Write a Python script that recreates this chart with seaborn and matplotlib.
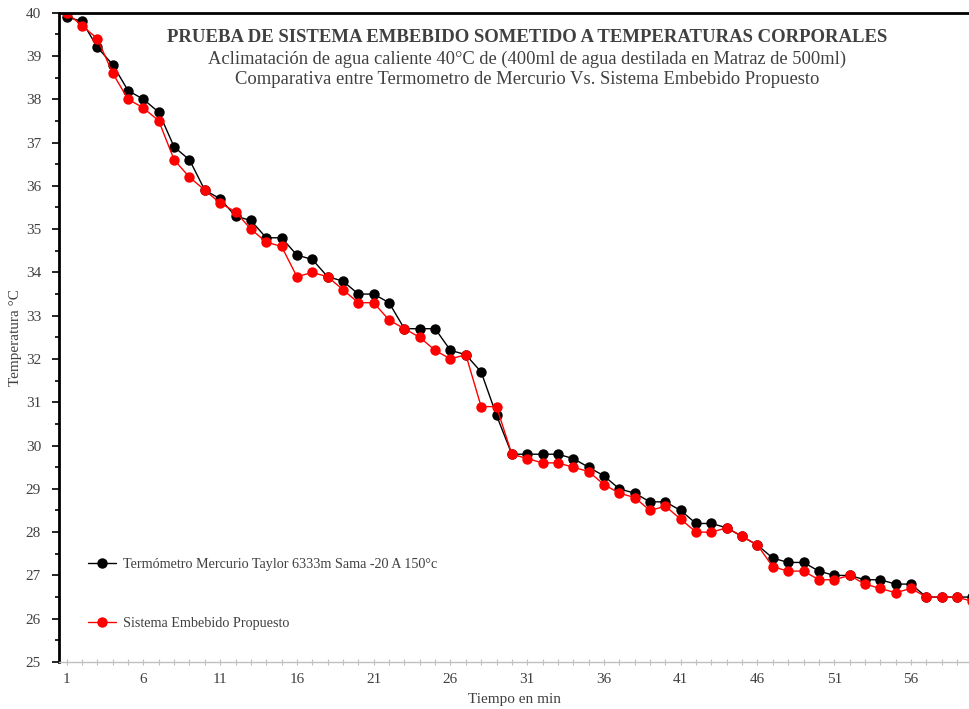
import numpy as np
import pandas as pd
import matplotlib
matplotlib.use("Agg")
import matplotlib.pyplot as plt
from matplotlib.ticker import MultipleLocator, FixedLocator
import seaborn as sns

# Minutes of the cooling run
minutos = list(range(1, 61))

# Mercury thermometer readings (°C)
mercurio = [
    39.9, 39.8, 39.2, 38.8, 38.2, 38.0, 37.7, 36.9, 36.6, 35.9,
    35.7, 35.3, 35.2, 34.8, 34.8, 34.4, 34.3, 33.9, 33.8, 33.5,
    33.5, 33.3, 32.7, 32.7, 32.7, 32.2, 32.1, 31.7, 30.7, 29.8,
    29.8, 29.8, 29.8, 29.7, 29.5, 29.3, 29.0, 28.9, 28.7, 28.7,
    28.5, 28.2, 28.2, 28.1, 27.9, 27.7, 27.4, 27.3, 27.3, 27.1,
    27.0, 27.0, 26.9, 26.9, 26.8, 26.8, 26.5, 26.5, 26.5, 26.5,
]

# Embedded system readings (°C)
embebido = [
    40.0, 39.7, 39.4, 38.6, 38.0, 37.8, 37.5, 36.6, 36.2, 35.9,
    35.6, 35.4, 35.0, 34.7, 34.6, 33.9, 34.0, 33.9, 33.6, 33.3,
    33.3, 32.9, 32.7, 32.5, 32.2, 32.0, 32.1, 30.9, 30.9, 29.8,
    29.7, 29.6, 29.6, 29.5, 29.4, 29.1, 28.9, 28.8, 28.5, 28.6,
    28.3, 28.0, 28.0, 28.1, 27.9, 27.7, 27.2, 27.1, 27.1, 26.9,
    26.9, 27.0, 26.8, 26.7, 26.6, 26.7, 26.5, 26.5, 26.5, 26.4,
]

serie_mercurio = "Termómetro Mercurio Taylor 6333m Sama -20 A 150°c"
serie_embebido = "Sistema Embebido Propuesto"

titulo = "PRUEBA DE SISTEMA EMBEBIDO SOMETIDO A TEMPERATURAS CORPORALES"
subtitulo1 = "Aclimatación de agua caliente 40°C de (400ml de agua destilada en Matraz de 500ml)"
subtitulo2 = "Comparativa entre Termometro de Mercurio Vs. Sistema Embebido Propuesto"

xticks = list(range(1, 57, 5))

df = pd.DataFrame({
    "Tiempo": minutos * 2,
    "Temperatura": mercurio + embebido,
    "Serie": [serie_mercurio] * len(minutos) + [serie_embebido] * len(minutos),
})

sns.set_theme(style="white")
plt.rcParams["font.family"] = ["Liberation Serif", "DejaVu Serif"]

fig = plt.figure(figsize=(9.69, 7.09), dpi=100)
ax = fig.add_axes([59 / 969, 47 / 709, 910 / 969, 649.3 / 709])

sns.lineplot(
    data=df, x="Tiempo", y="Temperatura", hue="Serie",
    palette={serie_mercurio: "black", serie_embebido: "#ff0000"},
    marker="o", markersize=7.5, markeredgewidth=0, linewidth=1,
    ax=ax,
)

ax.set_xlim(0.5, 59.78)
ax.set_ylim(25, 40)

ax.xaxis.set_major_locator(FixedLocator(xticks))
ax.xaxis.set_minor_locator(MultipleLocator(1))
ax.yaxis.set_major_locator(MultipleLocator(1))
ax.yaxis.set_minor_locator(MultipleLocator(0.5))

txt = "#404040"
ax.tick_params(axis="y", which="major", direction="out", length=5, width=1.2,
               color="black", labelsize=11, labelcolor=txt, pad=8, left=True)
ax.tick_params(axis="y", which="minor", direction="out", length=3, width=1.2,
               color="black", left=True)
ax.tick_params(axis="x", which="both", direction="inout", length=4, width=0.8,
               color="#bfbfbf", labelsize=11, labelcolor=txt, pad=6, bottom=True)

for s in ["left", "top"]:
    ax.spines[s].set_color("black")
    ax.spines[s].set_linewidth(2)
ax.spines["bottom"].set_color("#bfbfbf")
ax.spines["bottom"].set_linewidth(1)
ax.spines["right"].set_visible(False)

ax.set_xlabel("Tiempo en min", fontsize=11, color=txt, labelpad=5)
ax.set_ylabel("Temperatura °C", fontsize=11, color=txt, labelpad=3)

leg = ax.legend(
    loc="lower left", bbox_to_anchor=(0.032, 0.05), frameon=False,
    fontsize=10.15, labelspacing=3.25, handlelength=1.95, handletextpad=0.5,
    borderaxespad=0, borderpad=0,
)
for t in leg.get_texts():
    t.set_color(txt)

fig.text(527 / 969, 1 - 37 / 709, titulo, ha="center", va="center",
         fontsize=13.5, fontweight="bold", color=txt)
fig.text(527 / 969, 1 - 59 / 709, subtitulo1, ha="center", va="center",
         fontsize=13.35, color=txt)
fig.text(527 / 969, 1 - 80 / 709, subtitulo2, ha="center", va="center",
         fontsize=13.45, color=txt)

fig.savefig("out.png", dpi=100)
